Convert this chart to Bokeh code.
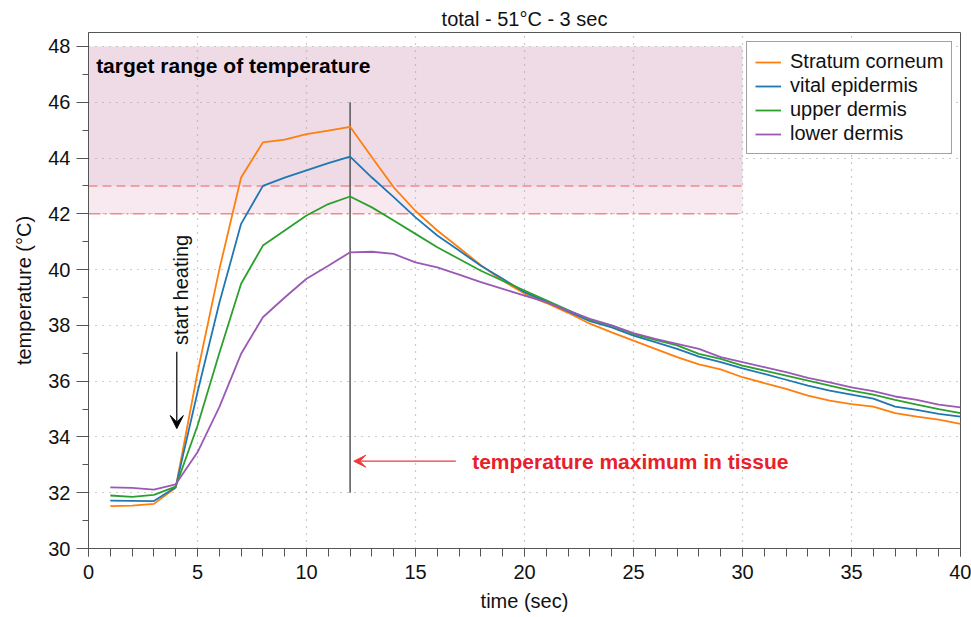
import math
from bokeh.plotting import figure
from bokeh.models import Range1d, Label, Arrow, VeeHead, Legend, LegendItem, FixedTicker, Title
from bokeh.embed import file_html
from bokeh.resources import INLINE

# ---- data ----
time = list(range(1, 41))
stratum_corneum = [31.52, 31.54, 31.60, 32.18, 36.3, 40.0, 43.3, 44.56, 44.66, 44.86, 44.98, 45.12,
                   44.03, 42.95, 42.1, 41.4, 40.78, 40.16, 39.6, 39.14, 38.8, 38.45, 38.06, 37.75,
                   37.45, 37.16, 36.86, 36.6, 36.42, 36.14, 35.93, 35.72, 35.48, 35.3, 35.18, 35.09,
                   34.85, 34.73, 34.62, 34.47]
vital_epidermis = [31.72, 31.71, 31.70, 32.2, 35.6, 38.8, 41.64, 43.0, 43.3, 43.56, 43.82, 44.05,
                   43.3, 42.6, 41.87, 41.22, 40.68, 40.14, 39.67, 39.19, 38.85, 38.5, 38.15, 37.93,
                   37.63, 37.4, 37.16, 36.88, 36.68, 36.46, 36.26, 36.05, 35.84, 35.66, 35.52, 35.37,
                   35.09, 34.97, 34.83, 34.73]
upper_dermis = [31.9, 31.85, 31.92, 32.22, 34.4, 37.0, 39.49, 40.86, 41.4, 41.94, 42.35, 42.62,
                42.23, 41.76, 41.28, 40.8, 40.38, 39.96, 39.6, 39.25, 38.9, 38.55, 38.2, 37.99,
                37.69, 37.48, 37.28, 36.98, 36.8, 36.56, 36.38, 36.2, 36.02, 35.84, 35.66, 35.52,
                35.33, 35.16, 35.0, 34.85]
lower_dermis = [32.19, 32.17, 32.11, 32.3, 33.45, 35.07, 36.98, 38.29, 39.0, 39.67, 40.14, 40.62,
                40.64, 40.56, 40.26, 40.08, 39.82, 39.55, 39.31, 39.07, 38.83, 38.53, 38.23, 38.0,
                37.72, 37.52, 37.34, 37.16, 36.86, 36.68, 36.5, 36.32, 36.12, 35.96, 35.78, 35.64,
                35.45, 35.33, 35.16, 35.06]
series_names = ["Stratum corneum", "vital epidermis", "upper dermis", "lower dermis"]
series_colors = ["#ff7f0e", "#1f77b4", "#2ca02c", "#9b59b6"]

target_x = [0, 30]
target_upper = [43, 48]    # strong target band
target_lower = [42, 43]    # light band
max_time = 12
max_line_y = [32, 46]
x_ticks = [0, 5, 10, 15, 20, 25, 30, 35, 40]
y_ticks = [30, 32, 34, 36, 38, 40, 42, 44, 46, 48]

FONT = "Liberation Sans"

p = figure(width=971, height=617, output_backend="svg", toolbar_location=None,
           x_range=Range1d(0, 40), y_range=Range1d(30, 48.5),
           min_border_left=88, min_border_right=11, min_border_top=32, min_border_bottom=69)
p.title = Title(text="total - 51°C - 3 sec", align="center", text_font=FONT,
                text_font_size="20px", text_font_style="normal", text_color="#111111", standoff=6)
p.background_fill_color = "white"
p.border_fill_color = "white"
p.outline_line_color = "#555555"
p.outline_line_width = 1

# bands
p.quad(left=[target_x[0]], right=[target_x[1]], bottom=[target_upper[0]], top=[target_upper[1]],
       fill_color="#eedbe6", line_color=None, level="image")
p.quad(left=[target_x[0]], right=[target_x[1]], bottom=[target_lower[0]], top=[target_lower[1]],
       fill_color="#f8e9f1", line_color=None, level="image")

# grid
for g in (p.xgrid, p.ygrid):
    g.grid_line_color = "#9a9a9a"
    g.grid_line_dash = "1 6"
    g.grid_line_width = 1.2
p.xaxis.ticker = FixedTicker(ticks=x_ticks, minor_ticks=list(range(0, 41)))
p.yaxis.ticker = FixedTicker(ticks=y_ticks, minor_ticks=list(range(30, 49)))

p.line(target_x, [target_upper[0]] * 2, line_color="#f08a8a", line_width=1.5, line_dash="9 5")
p.line(target_x, [target_lower[0]] * 2, line_color="#f08a8a", line_width=1.5, line_dash="12 4 2 4")

# max line
p.line([max_time, max_time], max_line_y, line_color="#555555", line_width=1.5)

items = []
for name, ys, c in zip(series_names, [stratum_corneum, vital_epidermis, upper_dermis, lower_dermis], series_colors):
    r = p.line(time, ys, line_color=c, line_width=1.8)
    items.append(LegendItem(label=name, renderers=[r]))

legend = Legend(items=items, location=(658, 394), border_line_color="#444444", border_line_width=1,
                background_fill_color="white", background_fill_alpha=1,
                label_text_font=FONT, label_text_font_size="20px", label_text_color="#111111",
                glyph_width=26, glyph_height=22, label_height=22, spacing=1, padding=8,
                label_standoff=9, margin=0)
p.add_layout(legend, "center")

# axes
for ax in (p.xaxis, p.yaxis):
    ax.axis_line_color = "#555555"
    ax.major_tick_line_color = "#555555"
    ax.minor_tick_line_color = "#555555"
    ax.major_tick_in = 0
    ax.minor_tick_in = 0
    ax.major_label_text_font = FONT
    ax.major_label_text_font_size = "20px"
    ax.major_label_text_color = "#111111"
    ax.axis_label_text_font = FONT
    ax.axis_label_text_font_size = "20px"
    ax.axis_label_text_font_style = "normal"
    ax.axis_label_text_color = "#111111"
p.xaxis.axis_label = "time (sec)"
p.yaxis.axis_label = "temperature (°C)"
p.xaxis.major_tick_out = 8
p.xaxis.minor_tick_out = 8
p.yaxis.major_tick_out = 12
p.yaxis.minor_tick_out = 6
p.xaxis.major_label_standoff = 8
p.yaxis.major_label_standoff = 6
p.xaxis.axis_label_standoff = 8
p.yaxis.axis_label_standoff = 10

# annotations
p.add_layout(Label(x=0.35, y=47.32, text="target range of temperature", text_font=FONT,
                   text_font_size="21px", text_font_style="bold", text_color="black",
                   text_baseline="middle", text_align="left"))
p.add_layout(Label(x=4.25, y=37.3, text="start heating", angle=math.pi / 2, text_font=FONT,
                   text_font_size="20px", text_color="#111111",
                   text_baseline="middle", text_align="left"))
p.add_layout(Arrow(x_start=4.05, y_start=37.05, x_end=4.05, y_end=34.3, line_color="black",
                   line_width=1.2,
                   end=VeeHead(size=13, fill_color="black", line_color="black")))
p.add_layout(Arrow(x_start=16.85, y_start=33.13, x_end=12.17, y_end=33.13, line_color="#ee3a3a",
                   line_width=1.2,
                   end=VeeHead(size=12, fill_color="#ee3a3a", line_color="#ee3a3a")))
p.add_layout(Label(x=17.6, y=33.13, text="temperature maximum in tissue", text_font=FONT,
                   text_font_size="21px", text_font_style="bold", text_color="#e8202a",
                   text_baseline="middle", text_align="left"))

open("out.html", "w").write(file_html(p, INLINE))
